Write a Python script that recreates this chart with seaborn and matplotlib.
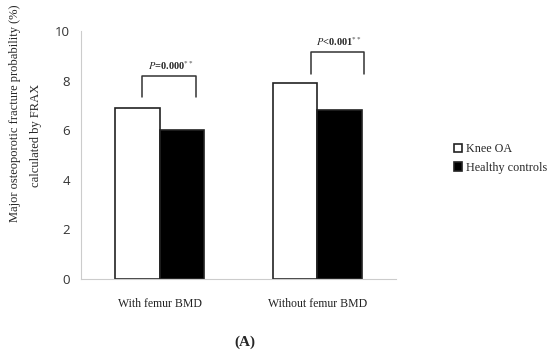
import pandas as pd
import matplotlib
matplotlib.use("Agg")
import matplotlib.pyplot as plt
import seaborn as sns

# values
categories = ["With femur BMD", "Without femur BMD"]
groups = ["Knee OA", "Healthy controls"]
knee_oa = [6.9, 7.9]
healthy = [6.0, 6.8]
p_labels = ["=0.000", "<0.001"]
y_ticks = [0, 2, 4, 6, 8, 10]

df = pd.DataFrame({
    "category": categories * 2,
    "group": [groups[0]] * 2 + [groups[1]] * 2,
    "value": knee_oa + healthy,
})

sns.set_style("white")
plt.rcParams["mathtext.fontset"] = "stix"
serif = "Liberation Serif"
sans = "Open Sans"

fig = plt.figure(figsize=(5.5, 3.53), dpi=100)
ax = fig.add_axes([0.147, 0.21, 0.573, 0.702])

sns.barplot(data=df, x="category", y="value", hue="group", hue_order=groups,
            palette=["white", "black"], width=0.565, edgecolor="#222222",
            linewidth=1.2, ax=ax, legend=False)

ax.set_ylim(0, 10)
ax.set_xlim(-0.5, 1.5)
ax.set_yticks(y_ticks)
ax.set_yticklabels([str(t) for t in y_ticks], fontsize=9.5, family=sans, color="#333333")
ax.set_xticks([-0.5, 0.5, 1.5], minor=False)
ax.set_xticklabels([])
ax.set_xticks([0, 1], minor=True)
ax.set_xticklabels(categories, minor=True, fontsize=8.5, family=serif, color="#222222")
ax.tick_params(axis="x", which="major", direction="out", length=5, color="#bbbbbb", width=0.8)
ax.tick_params(axis="x", which="minor", length=0, pad=14)
ax.tick_params(axis="y", direction="out", length=4, color="#bbbbbb", width=0.8, pad=4)
ax.set_xlabel("")
ax.set_ylabel("Major osteoporotic fracture probability (%)", fontsize=9, family=serif)
ax.yaxis.set_label_coords(-0.19, 0.67)
ax.text(-0.142, 0.58, "calculated by FRAX", transform=ax.transAxes, rotation=90,
        ha="center", va="center", fontsize=9, family=serif)
for s in ["top", "right"]:
    ax.spines[s].set_visible(False)
for s in ["left", "bottom"]:
    ax.spines[s].set_color("#cccccc")
    ax.spines[s].set_linewidth(0.8)

# significance brackets
brackets = [(-0.11, 0.23, 7.34, 8.2), (0.96, 1.30, 8.27, 9.15)]
for (x0, x1, yb, yt), lab in zip(brackets, p_labels):
    ax.plot([x0, x0, x1, x1], [yb, yt, yt, yb], color="#333333", lw=1.1)
    ax.text((x0 + x1) / 2 + 0.01, yt + 0.15, r"$\it{P}$" + lab + r"$^{**}$", ha="center",
            va="bottom", fontsize=7.5, family=serif, fontweight="bold")

# legend
handles = [plt.Rectangle((0, 0), 1, 1, facecolor=c, edgecolor="#222222", lw=1.2)
           for c in ["white", "black"]]
fig.legend(handles, groups, loc="center left", bbox_to_anchor=(0.805, 0.551),
           frameon=False, prop={"family": serif, "size": 8.7}, handlelength=0.7,
           handleheight=0.7, handletextpad=0.3, labelspacing=0.55)

fig.text(0.445, 0.01, "(A)", ha="center", va="bottom", family=serif,
         fontweight="bold", fontsize=11)

fig.savefig("out.png", dpi=100)
